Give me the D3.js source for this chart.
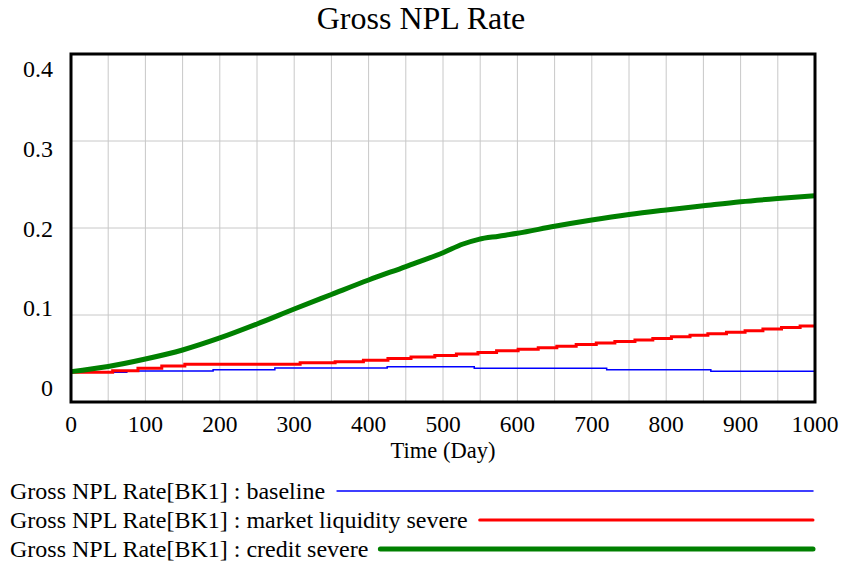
<!DOCTYPE html>
<html>
<head>
<meta charset="utf-8">
<script src="https://cdn.jsdelivr.net/npm/d3@7"></script>
<style>
  body { margin: 0; background: #fff; }
</style>
</head>
<body>
<svg id="chart" width="846" height="567" font-family="'Liberation Serif', 'Times New Roman', serif"></svg>
<script>
var W = 846, H = 567;
var margin = { top: 54, right: 31, bottom: 165, left: 71 };

// data
var title = "Gross NPL Rate";
var xLabel = "Time (Day)";
var xTicks = [0, 100, 200, 300, 400, 500, 600, 700, 800, 900, 1000];
var yTicks = [0, 0.1, 0.2, 0.3, 0.4];
var yTickLabels = ["0", "0.1", "0.2", "0.3", "0.4"];

var seriesNames = [
  "Gross NPL Rate[BK1] : baseline",
  "Gross NPL Rate[BK1] : market liquidity severe",
  "Gross NPL Rate[BK1] : credit severe"
];

// baseline (stepped)
var baseT = [0, 75, 191, 274, 425, 542, 720, 860, 1000];
var baseV = [0.0341, 0.0356, 0.0371, 0.0391, 0.0406, 0.0387, 0.0371, 0.0353, 0.0353];

// market liquidity severe (stepped)
var liqT = [0, 56, 90, 122, 153, 308, 355, 393, 426, 457, 489, 518, 547, 572, 601, 628, 653,
            679, 706, 731, 758, 782, 807, 832, 856, 881, 906, 930, 955, 980, 1000];
var liqV = [0.0341, 0.0360, 0.0387, 0.0414, 0.0433, 0.0452, 0.0463, 0.0481, 0.0499, 0.0517,
            0.0535, 0.0553, 0.0570, 0.0588, 0.0606, 0.0624, 0.0642, 0.0660, 0.0677, 0.0695,
            0.0713, 0.0731, 0.0749, 0.0767, 0.0784, 0.0802, 0.0820, 0.0838, 0.0856, 0.0874, 0.0874];

// credit severe
var credT = [0, 50, 100, 150, 200, 250, 300, 350, 400, 450, 500, 527, 548, 575, 600, 650,
             700, 750, 800, 850, 900, 950, 1000];
var credV = [0.0349, 0.0408, 0.0494, 0.0598, 0.0736, 0.0897, 0.1069, 0.1236, 0.1402, 0.1557,
             0.1716, 0.1816, 0.1870, 0.1906, 0.1939, 0.2020, 0.2092, 0.2155, 0.2207, 0.2255,
             0.2302, 0.2339, 0.2371];

var colors = ["#0000ff", "#ff0000", "#008000"];
var widths = [1.5, 3, 5];

var svg = d3.select("#chart");

var x = d3.scaleLinear().domain([0, 1000]).range([margin.left, W - margin.right]);
var y = d3.scaleLinear().domain([0, 0.4]).range([H - margin.bottom, margin.top]);
// vensim spreads the y labels a bit inside the frame
var yLab = d3.scaleLinear().domain([0, 0.4]).range([396, 77]);

// grid
var xGrid = d3.range(50, 1000, 50);
svg.append("g").selectAll("line")
    .data(xGrid)
    .enter()
    .append("line")
    .attr("x1", function (d) { return x(d); })
    .attr("x2", function (d) { return x(d); })
    .attr("y1", y(0))
    .attr("y2", y(0.4))
    .attr("stroke", "#c8c8c8")
    .attr("stroke-width", 1);

svg.append("g").selectAll("line")
    .data([0.1, 0.2, 0.3])
    .enter()
    .append("line")
    .attr("x1", x(0))
    .attr("x2", x(1000))
    .attr("y1", function (d) { return y(d); })
    .attr("y2", function (d) { return y(d); })
    .attr("stroke", "#c8c8c8")
    .attr("stroke-width", 1);

// lines
var allT = [baseT, liqT, credT];
var allV = [baseV, liqV, credV];
var curves = [d3.curveStepAfter, d3.curveStepAfter, d3.curveMonotoneX];

for (var s = 0; s < 3; s++) {
    var pts = allT[s].map(function (t, i) { return [t, allV[s][i]]; });
    var line = d3.line()
        .x(function (d) { return x(d[0]); })
        .y(function (d) { return y(d[1]); })
        .curve(curves[s]);
    svg.append("path")
        .datum(pts)
        .attr("d", line)
        .attr("fill", "none")
        .attr("stroke", colors[s])
        .attr("stroke-width", widths[s]);
}

// frame
svg.append("rect")
    .attr("x", x(0))
    .attr("y", y(0.4))
    .attr("width", x(1000) - x(0))
    .attr("height", y(0) - y(0.4))
    .attr("fill", "none")
    .attr("stroke", "#000")
    .attr("stroke-width", 3);

// tick labels
svg.append("g").selectAll("text")
    .data(xTicks)
    .enter()
    .append("text")
    .text(function (d) { return d; })
    .attr("x", function (d) { return x(d); })
    .attr("y", 432)
    .attr("text-anchor", "middle")
    .attr("font-size", "23.5px");

svg.append("g").selectAll("text")
    .data(yTicks)
    .enter()
    .append("text")
    .text(function (d, i) { return yTickLabels[i]; })
    .attr("x", 53)
    .attr("y", function (d) { return yLab(d); })
    .attr("text-anchor", "end")
    .attr("font-size", "24px");

svg.append("text")
    .text(xLabel)
    .attr("x", (x(0) + x(1000)) / 2)
    .attr("y", 458)
    .attr("text-anchor", "middle")
    .attr("font-size", "22.5px");

svg.append("text")
    .text(title)
    .attr("x", 421)
    .attr("y", 29)
    .attr("text-anchor", "middle")
    .attr("font-size", "32px");

// legend
var lineEnd = 813;
var legendY = [491, 520, 549];
seriesNames.forEach(function (name, i) {
    var t = svg.append("text")
        .text(name)
        .attr("x", 10)
        .attr("y", legendY[i] + 8)
        .attr("font-size", "24px");
    var end = t.node().getComputedTextLength() + 10;
    svg.append("line")
        .attr("x1", end + 12)
        .attr("x2", lineEnd)
        .attr("y1", legendY[i])
        .attr("y2", legendY[i])
        .attr("stroke", colors[i])
        .attr("stroke-width", widths[i])
        .attr("stroke-linecap", "round");
});
</script>
</body>
</html>
